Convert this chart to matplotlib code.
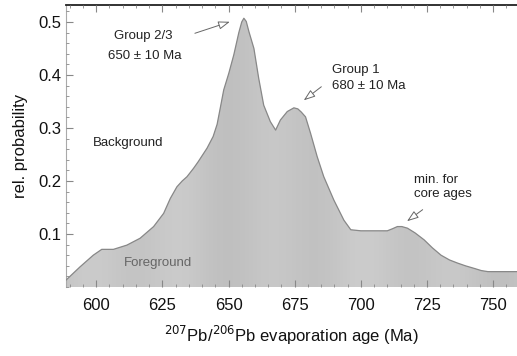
import numpy as np
import matplotlib
matplotlib.use("Agg")
import matplotlib.pyplot as plt
from matplotlib.ticker import MultipleLocator

plt.rcParams['font.family'] = ['Liberation Sans', 'DejaVu Sans']

# probability density curve
age = [588.6, 593.9, 598.9, 602.1, 606.5, 611.6, 616.6, 621.7, 625.5, 628.0,
       630.5, 632.5, 634.3, 636.8, 638.5, 641.9, 644.2, 645.7, 646.9, 648.2,
       650.1, 652.0, 653.9, 655.0, 655.8, 656.7, 657.7, 659.6, 661.4, 663.3,
       665.8, 667.8, 669.6, 672.2, 674.7, 676.2, 677.5, 679.1, 681.0, 683.5,
       686.0, 689.8, 693.6, 696.2, 700.0, 705.0, 710.0, 712.0, 713.8, 715.5,
       717.6, 720.5, 723.9, 727.0, 730.3, 733.5, 736.6, 739.5, 742.9, 745.5,
       748.0, 759.0]
prob = [0.013, 0.038, 0.060, 0.071, 0.071, 0.079, 0.092, 0.114, 0.139, 0.167,
        0.189, 0.200, 0.208, 0.224, 0.236, 0.262, 0.284, 0.307, 0.338, 0.372,
        0.403, 0.438, 0.480, 0.500, 0.507, 0.501, 0.482, 0.450, 0.394, 0.343,
        0.312, 0.296, 0.315, 0.331, 0.338, 0.336, 0.330, 0.321, 0.290, 0.246,
        0.208, 0.164, 0.126, 0.108, 0.106, 0.106, 0.106, 0.110, 0.114, 0.114,
        0.111, 0.102, 0.089, 0.074, 0.060, 0.051, 0.045, 0.040, 0.035, 0.031,
        0.029, 0.029]

xticks = [600, 625, 650, 675, 700, 725, 750]
yticks = [0.1, 0.2, 0.3, 0.4, 0.5]

fig = plt.figure(figsize=(5.17, 3.56), dpi=100)
ax = fig.add_axes([66/517, 1-287/356, 1-66/517, (287-5)/356])
ax.set_xlim(588.6, 759)
ax.set_ylim(0, 0.532)

poly = ax.fill_between(age, 0, prob, facecolor='#c6c6c6', edgecolor='none', zorder=1)
ax.plot(age, prob, color='#888888', lw=0.9, zorder=3, solid_joinstyle='round')

# vertical banding texture clipped to the fill
xs = np.linspace(588.6, 759, 600)
band = np.sin((xs - 588.6) / 5.5) * 0.6 + np.sin((xs - 588.6) / 15.0) * 0.4
g = 0.775 + 0.025 * band
img = np.zeros((20, len(xs), 3))
img[:, :, 0] = g
img[:, :, 1] = g
img[:, :, 2] = g
im = ax.imshow(img, extent=[588.6, 759, 0, 0.532], aspect='auto',
               origin='lower', zorder=2, interpolation='bilinear')
path = poly.get_paths()[0]
im.set_clip_path(path, transform=ax.transData)

ax.set_xticks(xticks)
ax.set_yticks(yticks)
ax.set_yticklabels([f"{v:.1f}" for v in yticks])
ax.xaxis.set_minor_locator(MultipleLocator(5))
ax.yaxis.set_minor_locator(MultipleLocator(0.02))
ax.tick_params(axis='both', which='both', direction='in', top=True, right=False,
               color='#888888', labelsize=12, labelcolor='#111111')
ax.tick_params(axis='both', which='major', length=5, width=0.8)
ax.tick_params(axis='both', which='minor', length=2.5, width=0.6)
ax.tick_params(axis='x', pad=8)
for s in ['right', 'bottom']:
    ax.spines[s].set_visible(False)
ax.spines['top'].set_color('#222222')
ax.spines['top'].set_linewidth(1.3)
ax.spines['left'].set_color('#aaaaaa')
ax.spines['left'].set_linewidth(0.8)
ax.set_axisbelow(False)

ax.set_ylabel('rel. probability', fontsize=12, color='#111111', labelpad=7)
ax.set_xlabel('$^{207}$Pb/$^{206}$Pb evaporation age (Ma)', fontsize=12,
              color='#111111', labelpad=8)

fs = 9.5
tc = '#222222'
ax.text(617.8, 0.474, 'Group 2/3', ha='center', va='center', fontsize=fs, color=tc)
ax.text(618.5, 0.436, '650 ± 10 Ma', ha='center', va='center', fontsize=fs, color=tc)
ax.text(689, 0.409, 'Group 1', ha='left', va='center', fontsize=fs, color=tc)
ax.text(689, 0.379, '680 ± 10 Ma', ha='left', va='center', fontsize=fs, color=tc)
ax.text(612.1, 0.272, 'Background', ha='center', va='center', fontsize=fs, color=tc)
ax.text(623.4, 0.045, 'Foreground', ha='center', va='center', fontsize=fs,
        color='#666666', zorder=6)
ax.text(720, 0.202, 'min. for', ha='left', va='center', fontsize=fs, color=tc)
ax.text(720, 0.175, 'core ages', ha='left', va='center', fontsize=fs, color=tc)

aprops = dict(arrowstyle='-|>,head_length=0.7,head_width=0.25', edgecolor='#666666',
              lw=0.7, facecolor='white')
ax.annotate('', xy=(651.5, 0.502), xytext=(636.3, 0.477), arrowprops=aprops, zorder=6)
ax.annotate('', xy=(677.6, 0.349), xytext=(685.9, 0.381), arrowprops=aprops, zorder=6)
ax.annotate('', xy=(716.6, 0.121), xytext=(724.2, 0.149), arrowprops=aprops, zorder=6)

fig.savefig('out.png', dpi=100)
